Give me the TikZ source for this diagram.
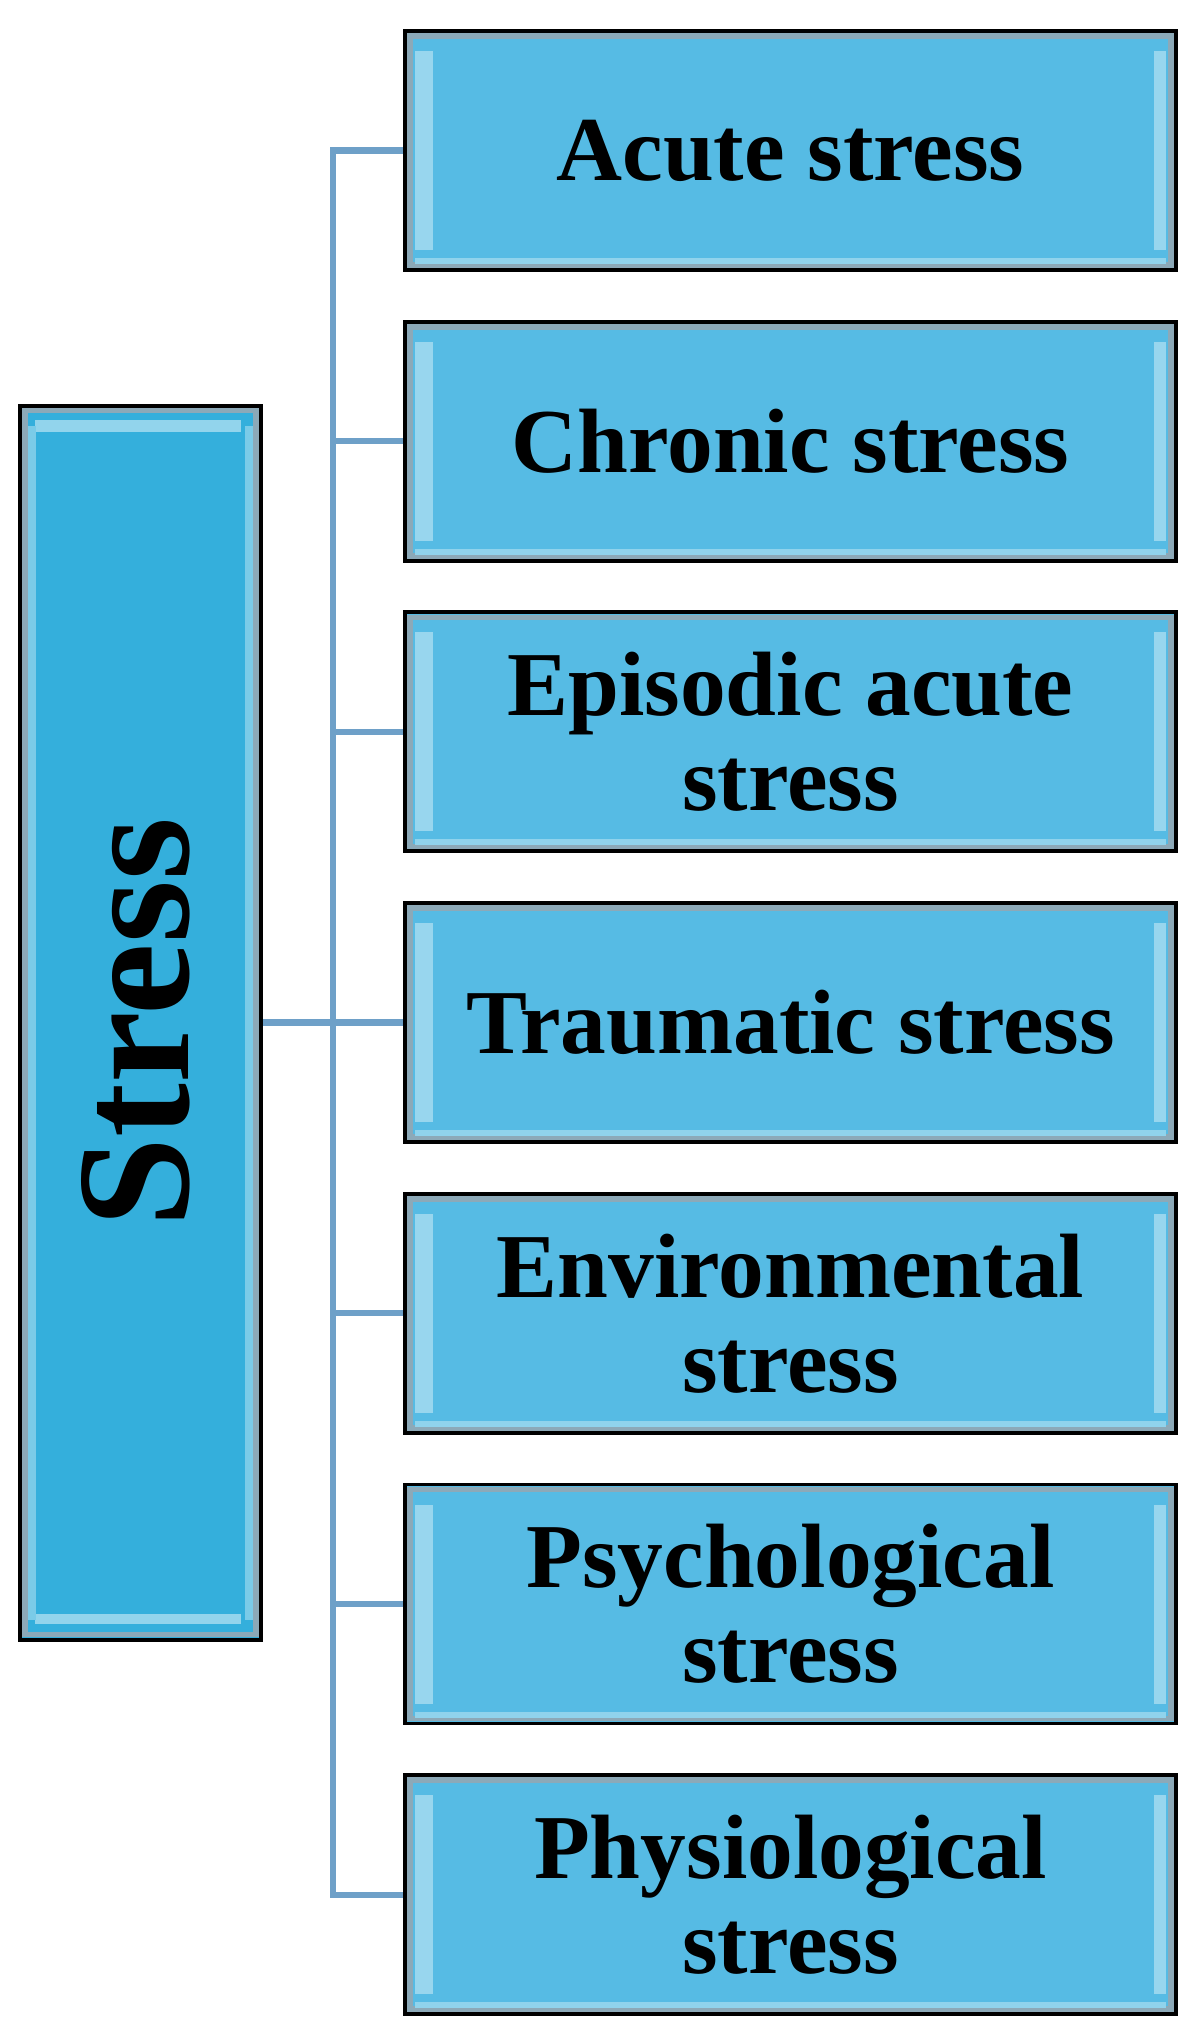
\documentclass[tikz,border=0pt]{standalone}
\usepackage{fontspec}
\setmainfont{Liberation Serif}
\usepackage{tikz}
\usetikzlibrary{positioning}

\definecolor{boxblue}{HTML}{56BBE4}
\definecolor{mainblue}{HTML}{34AFDC}
\definecolor{rimgray}{HTML}{8CA9B8}
\definecolor{shine}{HTML}{A9DDF0}
\definecolor{linkblue}{HTML}{6EA0C8}

\tikzset{
  link/.style={draw=linkblue, line width=1.8pt},
  subbox/.style={draw=black, line width=1.1pt, fill=boxblue,
    minimum width=7.71cm, minimum height=2.39cm, inner sep=0pt,
    align=center, font=\fontsize{26}{27}\selectfont\bfseries,
    path picture={
      \draw[rimgray, line width=1.6pt]
        ([shift={(0.05,0.05)}]path picture bounding box.south west) rectangle
        ([shift={(-0.05,-0.05)}]path picture bounding box.north east);
      \fill[shine!80!boxblue] ([shift={(0.1,0.2)}]path picture bounding box.south west) rectangle
        ([shift={(0.28,-0.2)}]path picture bounding box.north west);
      \fill[shine!80!boxblue] ([shift={(-0.22,0.2)}]path picture bounding box.south east) rectangle
        ([shift={(-0.1,-0.2)}]path picture bounding box.north east);
      \fill[shine!70!boxblue] ([shift={(0.1,0.06)}]path picture bounding box.south west) rectangle
        ([shift={(-0.1,0.12)}]path picture bounding box.south east);
    }},
  mainbox/.style={draw=black, line width=1.1pt, fill=mainblue,
    minimum width=2.41cm, minimum height=12.34cm, inner sep=0pt,
    path picture={
      \draw[rimgray, line width=1.6pt]
        ([shift={(0.05,0.05)}]path picture bounding box.south west) rectangle
        ([shift={(-0.05,-0.05)}]path picture bounding box.north east);
      \fill[shine!80!mainblue] ([shift={(0.15,-0.14)}]path picture bounding box.north west) rectangle
        ([shift={(-0.2,-0.26)}]path picture bounding box.north east);
      \fill[shine!80!mainblue] ([shift={(0.15,0.16)}]path picture bounding box.south west) rectangle
        ([shift={(-0.2,0.26)}]path picture bounding box.south east);
      \fill[shine!60!mainblue] ([shift={(0.08,0.2)}]path picture bounding box.south west) rectangle
        ([shift={(0.16,-0.2)}]path picture bounding box.north west);
      \fill[shine!60!mainblue] ([shift={(-0.16,0.2)}]path picture bounding box.south east) rectangle
        ([shift={(-0.08,-0.2)}]path picture bounding box.north east);
    }},
}

\begin{document}
\begin{tikzpicture}
\useasboundingbox (0,0) rectangle (12,-20.36);
\node[mainbox] (stress) at (1.405,-10.226) {};
\node[rotate=90, font=\fontsize{46}{48}\selectfont\bfseries] (stresstext) at ([xshift=-0.05cm]stress.center) {Stress};
\node[subbox] (acute) at (7.905,-1.505) {Acute stress};
\node[subbox] (chronic) at (7.905,-4.412) {Chronic stress};
\node[subbox] (episodic) at (7.905,-7.319) {Episodic acute\\stress};
\node[subbox] (traumatic) at (7.905,-10.226) {Traumatic stress};
\node[subbox] (environ) at (7.905,-13.133) {Environmental\\stress};
\node[subbox] (psycho) at (7.905,-16.04) {Psychological\\stress};
\node[subbox] (physio) at (7.905,-18.947) {Physiological\\stress};
% trunk of the tree
\coordinate (trunktop) at (3.33,-1.505);
\coordinate (trunkbot) at (3.33,-18.947);
\draw[link] (acute.west) -- (trunktop) -- (trunkbot) -- (physio.west);
\draw[link] (stress.east) -- (traumatic.west);
\draw[link] (chronic.west) -- (chronic.west -| trunktop);
\draw[link] (episodic.west) -- (episodic.west -| trunktop);
\draw[link] (environ.west) -- (environ.west -| trunktop);
\draw[link] (psycho.west) -- (psycho.west -| trunktop);
\end{tikzpicture}
\end{document}
